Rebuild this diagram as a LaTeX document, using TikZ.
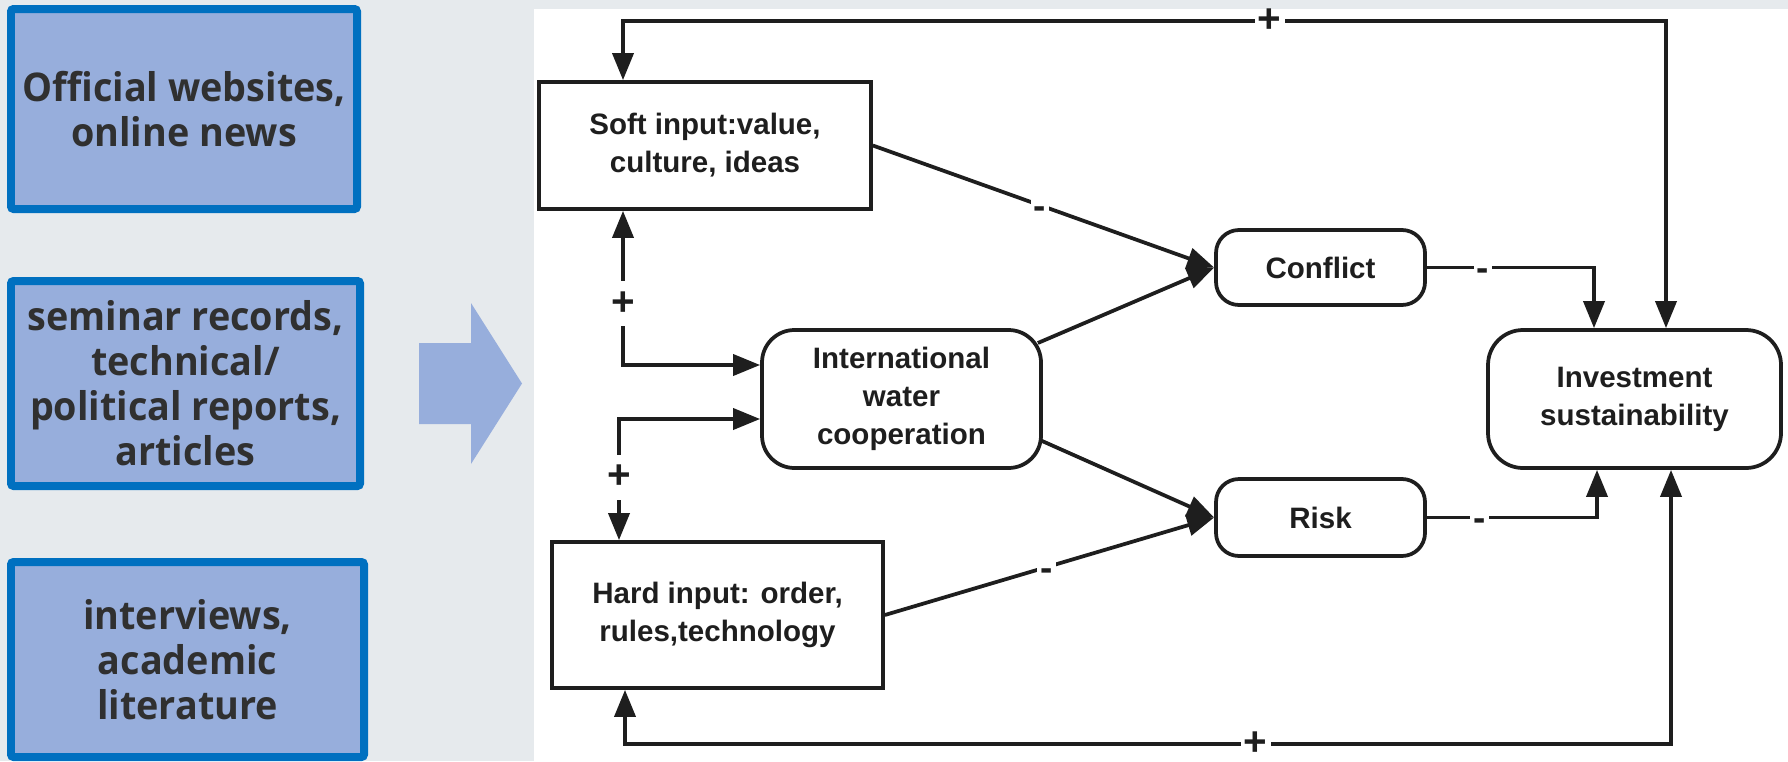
\documentclass[tikz,border=0pt]{standalone}
\usepackage{fontspec}
\setmainfont{Liberation Sans}
\newfontfamily\srcfont[FakeStretch=0.955]{Open Sans}
\usetikzlibrary{arrows.meta,calc}
\definecolor{bgpanel}{HTML}{E6EAED}
\definecolor{srcfill}{HTML}{97AEDC}
\definecolor{srcedge}{HTML}{0070C0}
\definecolor{srctext}{HTML}{303030}
\definecolor{ink}{HTML}{1E1E1E}
\newlength\pxu
\setlength\pxu{0.02cm}
\begin{document}
\begin{tikzpicture}[x=0.02cm,y=-0.02cm,
  >={Triangle[length=0.54cm,width=0.42cm]},
  srcbox/.style={draw=srcedge, fill=srcfill, line width=0.16cm, rounded corners=1.5pt,
    align=center, inner sep=0pt, text=srctext,
    font=\srcfont\bfseries\fontsize{22.5}{25.6}\selectfont},
  boxnode/.style={draw=ink, fill=white, line width=0.075cm, align=center, inner sep=0pt,
    text=ink, font=\bfseries\fontsize{16.8}{21.6}\selectfont},
  capnode/.style={boxnode, rounded corners=0.65cm},
  link/.style={draw=ink, line width=0.075cm},
  sign/.style={fill=white, inner xsep=1.8pt, inner ysep=0pt, text=ink,
    font=\bfseries\fontsize{23}{23}\selectfont},
  vsign/.style={sign, inner xsep=1pt, inner ysep=6pt},
  minussign/.style={sign, font=\bfseries\fontsize{21}{21}\selectfont,
    inner xsep=1.8pt, inner ysep=4pt, yshift=-4pt}]
\useasboundingbox (0,0) rectangle (1788,761);
% backdrop and white panel
\fill[bgpanel] (0,0) rectangle (1788,761);
\fill[white] (534,9) rectangle (1788,761);

% data sources
\node[srcbox, minimum width=346*\pxu, minimum height=200*\pxu] (src1) at (184,109)
  {Official websites,\\online news};
\node[srcbox, minimum width=349*\pxu, minimum height=205*\pxu] (src2) at (185.5,383.5)
  {seminar records,\\technical/\\political reports,\\articles};
\node[srcbox, minimum width=353*\pxu, minimum height=195*\pxu] (src3) at (187.5,659.5)
  {interviews,\\academic\\literature};

% block arrow
\fill[srcfill] (419,343) -- (471,343) -- (471,303) -- (522,383.5) -- (471,464)
  -- (471,424) -- (419,424) -- cycle;

% model nodes
\node[boxnode, minimum width=332*\pxu, minimum height=127*\pxu] (soft) at (705,145.5)
  {Soft input:value,\\culture, ideas};
\node[boxnode, minimum width=331*\pxu, minimum height=146*\pxu] (hard) at (717.5,615)
  {Hard input: order,\\rules,technology};
\node[capnode, minimum width=279*\pxu, minimum height=138*\pxu] (intl) at (901.5,399)
  {International\\water\\cooperation};
\node[capnode, rounded corners=0.46cm, minimum width=209*\pxu, minimum height=75*\pxu] (conflict) at (1320.5,267.5)
  {Conflict};
\node[capnode, rounded corners=0.46cm, minimum width=209*\pxu, minimum height=77*\pxu] (risk) at (1320.5,517.5)
  {Risk};
\node[capnode, rounded corners=0.7cm, minimum width=293*\pxu, minimum height=138*\pxu] (invest) at (1634.5,399)
  {Investment\\sustainability};

% anchor points of the connectors
\coordinate (topy) at (0,21);
\coordinate (boty) at (0,744);
\coordinate (sT) at ($(soft.north)+(-82,0)$);
\coordinate (iT) at ($(invest.north)+(31.5,0)$);
\coordinate (hB) at ($(hard.south)+(-92.5,0)$);
\coordinate (iB) at ($(invest.south)+(36.5,0)$);
\coordinate (sB) at ($(soft.south)+(-82,0)$);
\coordinate (iL1) at ($(intl.west)+(0,-34)$);
\coordinate (hT) at ($(hard.north)+(-98.5,0)$);
\coordinate (iL2) at ($(intl.west)+(0,20)$);
\coordinate (cI) at ($(invest.north)+(-40.5,0)$);
\coordinate (rI) at ($(invest.south)+(-37.5,0)$);

% feedback loops
\draw[link,<->] (sT) -- (sT|-topy) -- node[sign,pos=0.62]{+} (iT|-topy) -- (iT);
\draw[link,<->] (hB) -- (hB|-boty) -- node[sign,pos=0.603]{+} (iB|-boty) -- (iB);

% inputs and cooperation
\draw[link,<->] (sB) -- node[vsign,pos=0.603]{+} (sB|-iL1) -- (iL1);
\draw[link,<->] (hT) -- node[vsign,pos=0.52]{+} (hT|-iL2) -- (iL2);

% effects on conflict and risk
\draw[link,->] (soft.east) -- node[minussign,pos=0.49]{-} (conflict.west);
\draw[link,->] ($(intl.east)+(-5,-56)$) -- (conflict.west);
\draw[link,->] ($(intl.east)+(-3,41)$) -- (risk.west);
\draw[link,->] (hard.east) -- node[minussign,pos=0.49]{-} (risk.west);

% effects on investment sustainability
\draw[link,->] (conflict.east) -- node[minussign,pos=0.335]{-} (conflict.east-|cI) -- (cI);
\draw[link,->] (risk.east) -- node[minussign,pos=0.31]{-} (risk.east-|rI) -- (rI);
\end{tikzpicture}
\end{document}
